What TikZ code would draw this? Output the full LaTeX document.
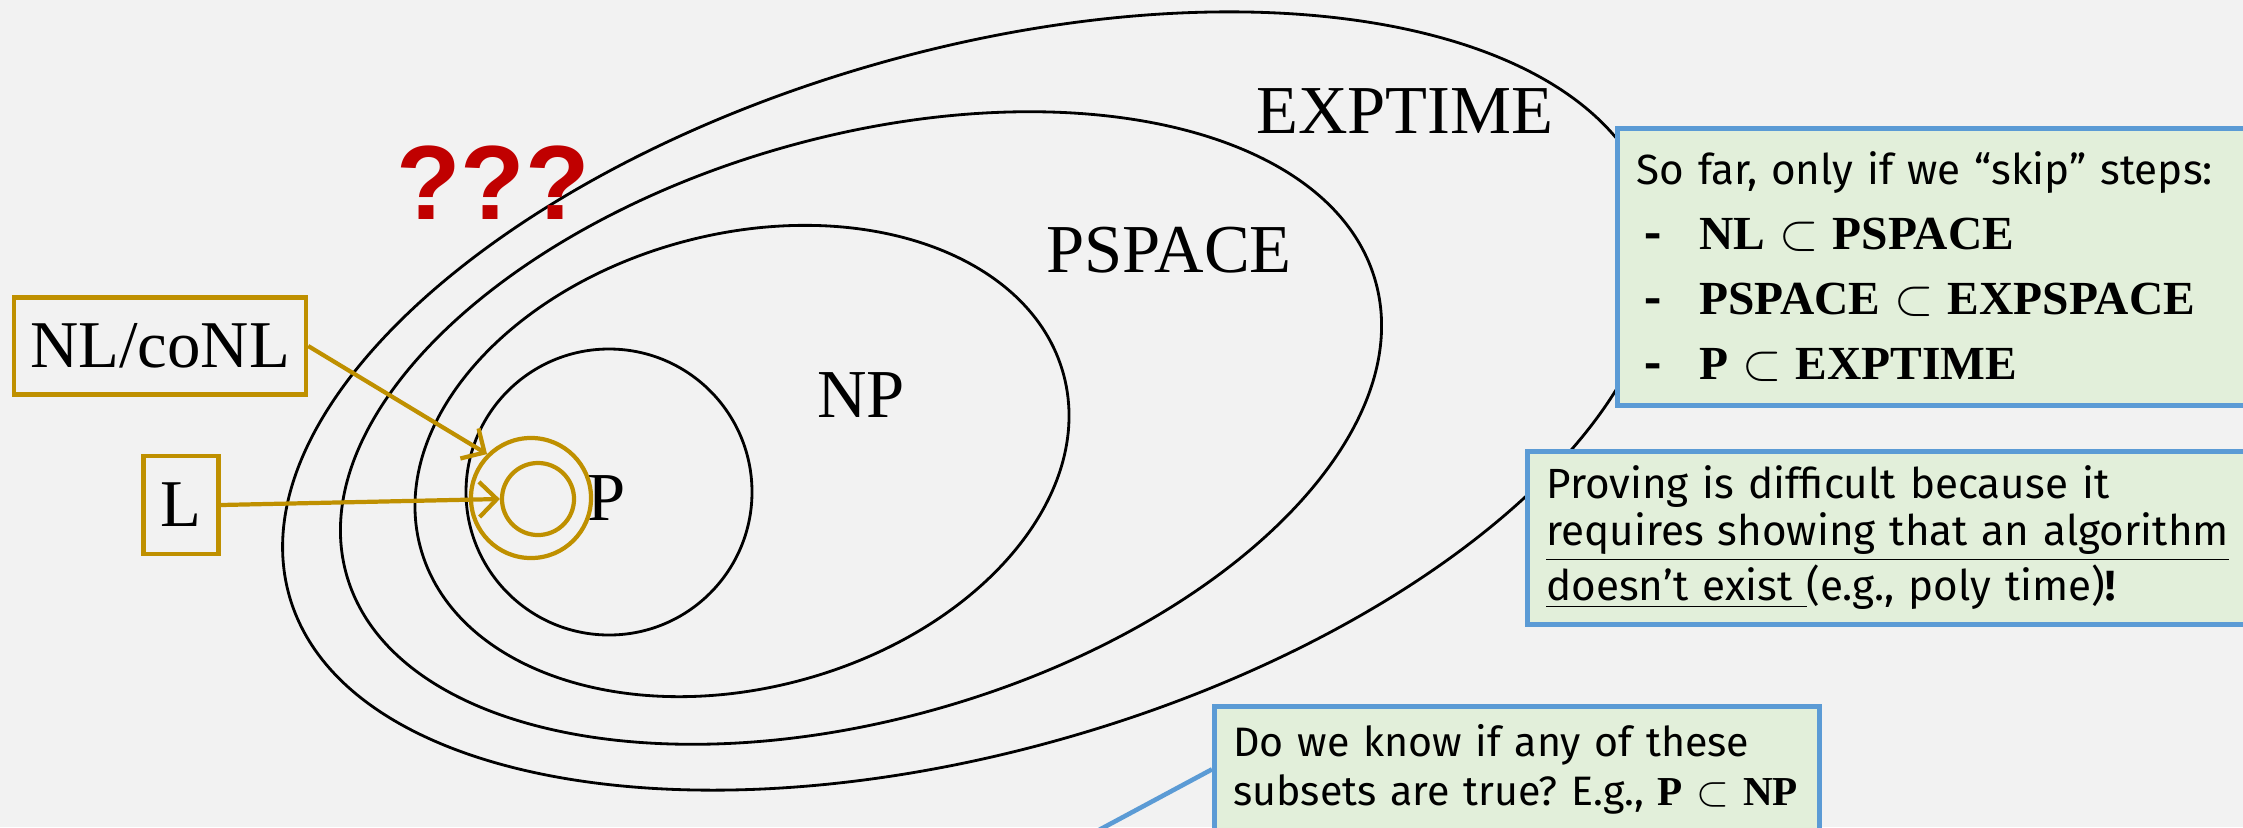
\documentclass[tikz,border=0pt]{standalone}
\usepackage{fontspec}
\setmainfont{Liberation Serif}
\newfontfamily\firafont{Fira Sans}
\newfontfamily\markfont{Liberation Sans}
\usepackage{tikz}
\usetikzlibrary{arrows.meta}
\definecolor{bg}{HTML}{F2F2F2}
\definecolor{gold}{HTML}{BF9000}
\definecolor{noteblue}{HTML}{5B9BD5}
\definecolor{notefill}{HTML}{E2EFDA}
\definecolor{qred}{HTML}{C00000}
\tikzset{
  cls/.style={line width=0.8pt, draw=black},
  clslab/.style={font=\fontsize{19.5}{22}\selectfont, inner sep=0pt},
  goldbox/.style={draw=gold, line width=1.2pt, font=\fontsize{19}{22}\selectfont, inner sep=0pt},
  ring/.style={circle, draw=gold, line width=1.2pt, inner sep=0pt},
  goldarr/.style={-{Straight Barb[length=5pt,width=10pt]}, draw=gold, line width=1.2pt},
  note/.style={draw=noteblue, fill=notefill, line width=1.3pt, align=left, anchor=north west,
    inner xsep=0.19cm, inner ysep=0pt, font=\firafont\frenchspacing\fontsize{12}{13.4}\selectfont},
  tail/.style={draw=noteblue, line width=1.3pt}
}
\newcommand{\bserif}[1]{{\rmfamily\bfseries #1}}
\newcommand{\dashitem}{\makebox[0.63cm][l]{\hspace{0.08cm}\textbf{-}}}

\begin{document}
\begin{tikzpicture}[x=0.01cm, y=-0.01cm]
  \useasboundingbox (0,0) rectangle (2243,827);
  \clip (0,0) rectangle (2243,827);
  \fill[bg] (0,0) rectangle (2243,827);

  % classes
  \draw[cls] (609,492) circle [radius=143];
  \draw[cls, rotate around={15:(742,461)}] (742,461) ellipse [x radius=333, y radius=227];
  \draw[cls, rotate around={16:(861,428)}] (861,428) ellipse [x radius=535, y radius=291];
  \draw[cls, rotate around={16:(971,401)}] (971,401) ellipse [x radius=709, y radius=350];

  \node[clslab] (plab) at (607,498) {P};
  \node[clslab] (nplab) at (861,395) {NP};
  \node[clslab] (pspacelab) at (1169,250) {PSPACE};
  \node[clslab] (exptimelab) at (1405,111) {EXPTIME};

  \node[font=\markfont\bfseries\fontsize{30}{30}\selectfont, text=qred] (qmarks) at (493,183) {???};

  % L and NL
  \node[ring, minimum size=1.2cm] (nlring) at (531,498) {};
  \node[ring, minimum size=0.72cm] (lring) at (538,499) {};
  \node[goldbox, minimum width=2.92cm, minimum height=0.97cm] (nlbox) at (160,346) {NL/coNL};
  \node[goldbox, minimum width=0.75cm, minimum height=0.98cm] (lbox) at (181,505) {L};
  \draw[goldarr] (nlbox.east) -- (nlring.north west);
  \draw[goldarr] (lbox.east) -- (lring.west);

  % notes
  \node[note, text width=7.2cm, minimum height=2.77cm, font=\firafont\fontsize{12}{18.5}\selectfont] (skipnote) at (1615,126) {%
    So far, only if we “skip” steps:\\
    \dashitem\bserif{\fontsize{13.5}{18.5}\selectfont NL $\subset$ PSPACE}\\
    \dashitem\bserif{\fontsize{13.5}{18.5}\selectfont PSPACE $\subset$ EXPSPACE}\\
    \dashitem\bserif{\fontsize{13.5}{18.5}\selectfont P $\subset$ EXPTIME}};
  \node[note, text width=7.6cm, minimum height=1.73cm] (provenote) at (1525,449) {%
    Proving is difficult because it\\
    \underline{requires showing that an algorithm}\\
    \underline{doesn’t exist }(e.g., poly time)\textbf{!}};
  \node[note, text width=5.67cm, minimum height=1.26cm, font=\firafont\frenchspacing\fontsize{11.7}{14}\selectfont] (asknote) at (1212,704) {%
    Do we know if any of these\\
    subsets are true? E.g., \bserif{P} $\subset$ \bserif{NP}};
  \coordinate (tailend) at (1030,867);
  \draw[tail] (asknote.west) -- (tailend);
\end{tikzpicture}
\end{document}
